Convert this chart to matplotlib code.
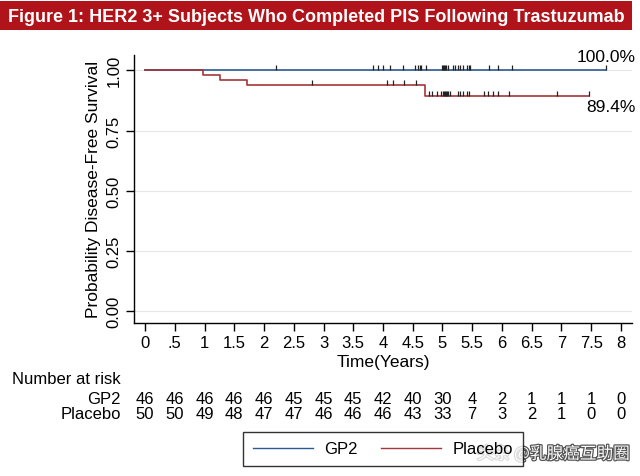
import numpy as np
import matplotlib
matplotlib.use("Agg")
import matplotlib.pyplot as plt
from matplotlib.patches import Rectangle
from matplotlib.path import Path
from matplotlib.transforms import blended_transform_factory
import matplotlib.patheffects as pe

plt.rcParams['font.family'] = ['Liberation Sans', 'DejaVu Sans']

# %%
# Kaplan-Meier steps
gp2_times = [0, 7.74]
gp2_surv = [1.0, 1.0]
pla_times = [0, 0.98, 1.26, 1.71, 4.71, 7.46]
pla_surv = [1.0, 0.98, 0.96, 0.94, 0.894, 0.894]

# censoring marks
gp2_cens = [2.21, 3.83, 3.92, 4.00, 4.11, 4.34, 4.54, 4.58, 4.62, 4.64, 4.73,
            4.99, 5.01, 5.03, 5.04, 5.06, 5.10, 5.18, 5.21, 5.26, 5.30, 5.35,
            5.41, 5.44, 5.47, 5.78, 5.94, 6.16, 7.74]
pla_cens = [2.80, 4.06, 4.17, 4.35, 4.55, 4.77, 4.83, 4.90, 4.97, 5.01, 5.03,
            5.04, 5.06, 5.08, 5.10, 5.13, 5.26, 5.30, 5.35, 5.41, 5.44, 5.69,
            5.77, 5.85, 5.93, 6.11, 6.92, 7.46]

# number at risk
risk_times = np.arange(0, 8.5, 0.5)
risk_gp2 = [46, 46, 46, 46, 46, 45, 45, 45, 42, 40, 30, 4, 2, 1, 1, 1, 0]
risk_pla = [50, 50, 49, 48, 47, 47, 46, 46, 46, 43, 33, 7, 3, 2, 1, 0, 0]
xtick_labels = ['0', '.5', '1', '1.5', '2', '2.5', '3', '3.5', '4', '4.5',
                '5', '5.5', '6', '6.5', '7', '7.5', '8']

title = "Figure 1: HER2 3+ Subjects Who Completed PIS Following Trastuzumab"
blue = '#2b5a92'
red = '#a3363a'

# %%
W, H = 640, 477
fig = plt.figure(figsize=(W / 100, H / 100), dpi=100)

def fx(px):
    return px / W

def fy(py):
    return 1 - py / H

# title bar
fig.patches.append(Rectangle((fx(0), fy(31)), fx(632), 29 / H, transform=fig.transFigure,
                             facecolor='#b01319', edgecolor='none'))
fig.text(fx(8), fy(17), title, color='white', fontsize=13, fontweight='bold',
         ha='left', va='center')

# main axes
ax = fig.add_axes([fx(134), fy(323.5), (632 - 134) / W, (323.5 - 56) / H])
ax.set_xlim(-0.185, 8.185)
ax.set_ylim(-0.0465, 1.0635)

for s in ['top', 'right']:
    ax.spines[s].set_visible(False)
for s in ['left', 'bottom']:
    ax.spines[s].set_linewidth(1.0)

ax.set_yticks([0, 0.25, 0.5, 0.75, 1.0])
ax.set_yticklabels(['0.00', '0.25', '0.50', '0.75', '1.00'], rotation=90, va='center')
ax.set_xticks(risk_times)
ax.set_xticklabels(xtick_labels)
ax.tick_params(labelsize=12, length=6, width=1, colors='black', pad=3)
ax.yaxis.grid(True, color='#e6e6e6', linewidth=0.8)
ax.set_axisbelow(True)

l1, = ax.step(gp2_times, gp2_surv, where='post', color=blue, lw=1.2, label='GP2')
l2, = ax.step(pla_times, pla_surv, where='post', color=red, lw=1.2, label='Placebo')

# censor marks sit on top of the curve
tick_mark = Path([(0, 0), (0, 1)], [Path.MOVETO, Path.LINETO])
def surv_at(times, surv, t):
    i = np.searchsorted(times, t, side='right') - 1
    return np.array(surv)[i]

ax.plot(gp2_cens, surv_at(gp2_times, gp2_surv, gp2_cens), ls='none', marker=tick_mark,
        ms=7, mec='#222222', mew=0.9)
ax.plot(pla_cens, surv_at(pla_times, pla_surv, pla_cens), ls='none', marker=tick_mark,
        ms=7, mec='#222222', mew=0.9)

ax.set_ylabel('Probability Disease-Free Survival', fontsize=12.5, labelpad=4)
ax.set_xlabel('Time(Years)', fontsize=12.5, labelpad=3)

fig.text(fx(636), fy(57), '100.0%', fontsize=12.5, ha='right', va='center')
fig.text(fx(636), fy(108), '89.4%', fontsize=12.5, ha='right', va='center')

# number at risk table
tr = blended_transform_factory(ax.transData, fig.transFigure)
fig.text(fx(12), fy(380), 'Number at risk', fontsize=12, ha='left', va='center')
fig.text(fx(121), fy(399), 'GP2', fontsize=12, ha='right', va='center')
fig.text(fx(121), fy(415), 'Placebo', fontsize=12, ha='right', va='center')
for t, a, b in zip(risk_times, risk_gp2, risk_pla):
    fig.text(t, fy(399), str(a), fontsize=12, ha='center', va='center', transform=tr)
    fig.text(t, fy(415), str(b), fontsize=12, ha='center', va='center', transform=tr)

# legend
leg = fig.legend(handles=[l1, l2], loc='center', bbox_to_anchor=(fx(383), fy(450)),
                 ncol=2, fontsize=12, frameon=True, fancybox=False, edgecolor='black',
                 handlelength=3.6, handletextpad=0.7, columnspacing=1.4, borderpad=0.55)
leg.get_frame().set_linewidth(1.0)
for h in leg.legend_handles:
    h.set_linewidth(1.0)

# watermark
fig.text(fx(477), fy(455), '头条 @乳腺癌互助圈', fontsize=12,
         family=['Noto Sans CJK SC', 'DejaVu Sans'], color='white', ha='left', va='center',
         path_effects=[pe.withStroke(linewidth=1.8, foreground='#555555')])

fig.savefig('out.png', dpi=100)
